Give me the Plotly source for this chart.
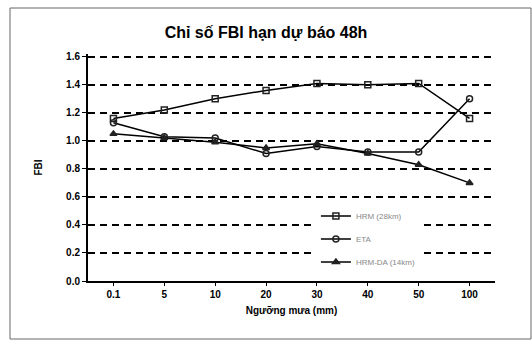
import plotly.graph_objects as go

categories = ["0.1", "5", "10", "20", "30", "40", "50", "100"]
series_names = ["HRM (28km)", "ETA", "HRM-DA (14km)"]
s1_values = [1.16, 1.22, 1.30, 1.36, 1.41, 1.40, 1.41, 1.16]
s2_values = [1.13, 1.03, 1.02, 0.91, 0.96, 0.92, 0.92, 1.30]
s3_values = [1.05, 1.02, 0.99, 0.95, 0.98, 0.91, 0.83, 0.70]
y_ticks = [0.0, 0.2, 0.4, 0.6, 0.8, 1.0, 1.2, 1.4, 1.6]

symbols = ["square-open", "circle-open", "triangle-up"]
all_values = [s1_values, s2_values, s3_values]

fig = go.Figure()
for i, (name, vals, sym) in enumerate(zip(series_names, all_values, symbols)):
    fig.add_trace(go.Scatter(
        x=categories, y=vals, name=name, mode="lines+markers",
        line=dict(color="black", width=1.5),
        marker=dict(symbol=sym, size=6, color="#222",
                    line=dict(color="#222", width=1.5)),
        legendgroup=f"g{i}",
    ))

fig.update_layout(
    width=532, height=340,
    margin=dict(l=88, r=37, t=54, b=59),
    paper_bgcolor="white", plot_bgcolor="white",
    title=dict(text="Chỉ số FBI hạn dự báo 48h", x=0.5, xanchor="center",
               y=1 - 32/340, yanchor="middle",
               font=dict(family="Arial, Liberation Sans", size=16, color="black",
                         weight="bold")),
    font=dict(family="Arial, Liberation Sans", color="black"),
    xaxis=dict(type="category", showgrid=False, showline=True, linecolor="black",
               linewidth=2, ticks="outside", tickcolor="black", ticklen=3,
               tickfont=dict(size=10, color="black", weight="bold"),
               title=dict(text="Ngưỡng mưa (mm)", standoff=8,
                          font=dict(size=10, color="black", weight="bold")),
               range=[-0.5, 7.5]),
    yaxis=dict(range=[0, 1.62], tickvals=y_ticks,
               ticktext=[f"{v:.1f}" for v in y_ticks],
               showgrid=True, gridcolor="black", gridwidth=1.6,
               griddash="7px,5px",
               showline=True, linecolor="black", linewidth=2, ticks="outside",
               tickcolor="black", ticklen=4,
               tickfont=dict(size=10, color="black", weight="bold"),
               title=dict(text="FBI", standoff=22,
                          font=dict(size=10, color="black", weight="bold")),
               zeroline=False),
    legend=dict(x=0.56, y=0.35, xanchor="left", yanchor="top",
                bgcolor="white", borderwidth=0, tracegroupgap=4,
                traceorder="grouped",
                font=dict(size=8, color="#888")),
)

# outer chart frame
fig.add_shape(type="rect", xref="paper", yref="paper",
              x0=-78/407, x1=(531-88)/407, y0=-58/227, y1=1 + 46/227,
              line=dict(color="#666", width=1), layer="below")

fig.write_html("out.html")
